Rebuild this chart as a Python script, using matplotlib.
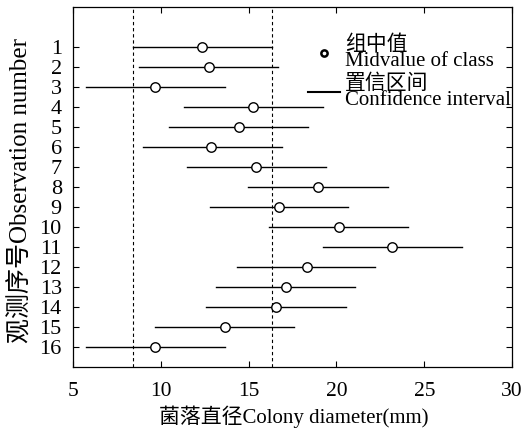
#!/usr/bin/env python3
import matplotlib as mpl
import matplotlib.pyplot as plt
from matplotlib.lines import Line2D


# observation numbers 1..16, class midvalues and confidence limits (mm)
obs = list(range(1, 17))
mid = [12.36, 12.74, 9.69, 15.25, 14.47, 12.88, 15.42, 18.95,
       16.71, 20.13, 23.15, 18.31, 17.15, 16.58, 13.66, 9.69]
low = [8.43, 8.78, 5.72, 11.34, 10.49, 8.99, 11.51, 14.98,
       12.82, 16.14, 19.25, 14.32, 13.14, 12.55, 9.69, 5.74]
high = [16.32, 16.69, 13.66, 19.22, 18.38, 16.88, 19.39, 22.92,
        20.68, 24.06, 27.15, 22.20, 21.06, 20.55, 17.57, 13.64]
ref_lines = [8.43, 16.32]

x_ticks = [5, 10, 15, 20, 25, 30]

FONT = ["Liberation Serif", "Noto Sans CJK SC", "DejaVu Sans"]


def main():
    mpl.rcParams.update({"font.family": FONT, "axes.linewidth": 0.9})

    fig = plt.figure(figsize=(5.21, 4.34), dpi=100)
    ax = fig.add_axes([0.140, 0.154, 0.843, 0.830])

    for y, lo, hi in zip(obs, low, high):
        ax.plot([lo, hi], [y, y], color="black", linewidth=1.0)
    ax.plot(mid, obs, linestyle="none", marker="o", markersize=6.8,
            markerfacecolor="white", markeredgecolor="black",
            markeredgewidth=1.0, zorder=3)
    for xv in ref_lines:
        ax.axvline(xv, color="black", linestyle=(0, (3, 2.5)), linewidth=0.8)

    ax.set_xlim(5, 30)
    ax.set_ylim(17, -1)
    ax.set_xticks(x_ticks)
    ax.set_yticks(obs)
    ax.tick_params(direction="in", top=True, right=True, length=4,
                   width=0.8)
    ax.tick_params(axis="x", labelsize=15.5, pad=11)
    ax.tick_params(axis="y", labelsize=16, pad=8)

    ax.set_xlabel("菌落直径Colony diameter(mm)", fontsize=15)
    ax.xaxis.set_label_coords(0.503, -0.106)
    ax.set_ylabel("观测序号Observation number", fontsize=18)
    ax.yaxis.set_label_coords(-0.092, 0.49)

    handles = [
        Line2D([], [], linestyle="none", marker="o", markersize=4.5,
               markerfacecolor="white", markeredgecolor="black",
               markeredgewidth=1.8),
        Line2D([], [], color="black", linewidth=1.5),
    ]
    labels = ["组中值\nMidvalue of class", "置信区间\nConfidence interval"]
    leg = ax.legend(handles, labels, loc="upper right", frameon=False,
                    fontsize=15, handlelength=1.5, handletextpad=0.25,
                    labelspacing=0.15, borderpad=0.0, borderaxespad=0.0,
                    bbox_to_anchor=(0.997, 0.92))
    for t in leg.get_texts():
        t.set_linespacing(0.8)

    fig.savefig("out.png", dpi=100)
    plt.close(fig)


if __name__ == "__main__":
    main()
